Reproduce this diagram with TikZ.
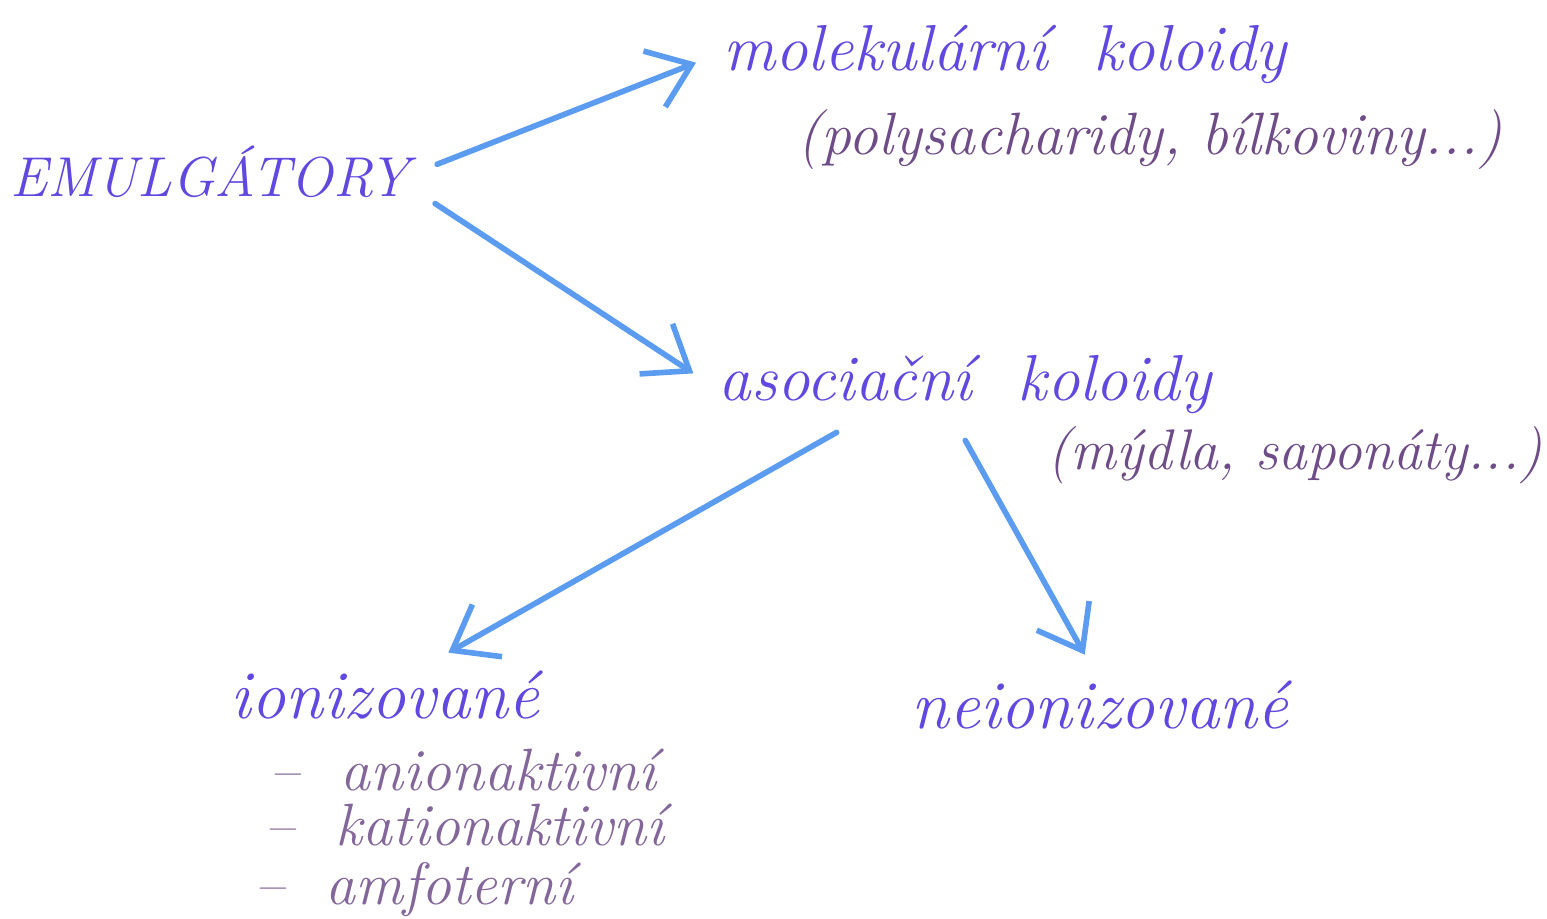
\documentclass[tikz,border=0pt]{standalone}
\usepackage{fontspec}
\usetikzlibrary{arrows.meta,positioning}
\definecolor{ink}{HTML}{6048E0}
\definecolor{plum}{HTML}{6E4C88}
\definecolor{sky}{HTML}{5C9CF0}

\begin{document}
\begin{tikzpicture}[
    heading/.style={text=ink,font=\fontsize{18.5}{20}\selectfont\itshape,inner sep=2pt},
    remark/.style={text=plum,font=\fontsize{17}{19}\selectfont\itshape,inner sep=2pt},
    kind/.style={text=plum!85,font=\fontsize{17}{19}\selectfont\itshape,inner sep=1pt,anchor=west},
    link/.style={sky,line width=1.6pt,line cap=round,-{Straight Barb[length=4mm,width=6mm,line width=1.6pt]},shorten <=6pt,shorten >=6pt}]
  \useasboundingbox (0,0) rectangle (15.47,-9.19); % page size

  \node[heading,font=\fontsize{16}{18}\selectfont\itshape] (emul) at (2.10,-1.72) {EMULGÁTORY};
  \node[heading] (mol) at (10.05,-0.55) {molekulární\ \ koloidy};
  \node[remark] (molex) at (11.50,-1.40) {(polysacharidy, bílkoviny...)};
  \node[heading] (asoc) at (9.65,-3.85) {asociační\ \ koloidy};
  \node[remark,font=\fontsize{16.3}{18}\selectfont\itshape] (asocex) at (12.95,-4.55) {(mýdla, saponáty...)};

  \node[heading,font=\fontsize{19.5}{21}\selectfont\itshape] (ion) at (3.85,-6.95) {ionizované};
  \node[heading,font=\fontsize{19.5}{21}\selectfont\itshape] (neion) at (11.00,-7.05) {neionizované};

  \node[kind] (anion) at (2.65,-7.70) {-- \ anionaktivní};
  \node[kind] (kation) at (2.60,-8.25) {-- \ kationaktivní};
  \node[kind] (amfo) at (2.50,-8.90) {-- \ amfoterní};

  \draw[link] (emul.east) -- (mol.west);  % to molecular colloids
  \draw[link] ([yshift=-0.2cm]emul.east) -- (asoc.west); % to association colloids
  \draw[link] ([xshift=-1.1cm]asoc.south) -- ([xshift=0.45cm]ion.north);
  \draw[link] ([xshift=-0.1cm]asoc.south) -- ([xshift=-0.05cm]neion.north);
\end{tikzpicture}
\end{document}
